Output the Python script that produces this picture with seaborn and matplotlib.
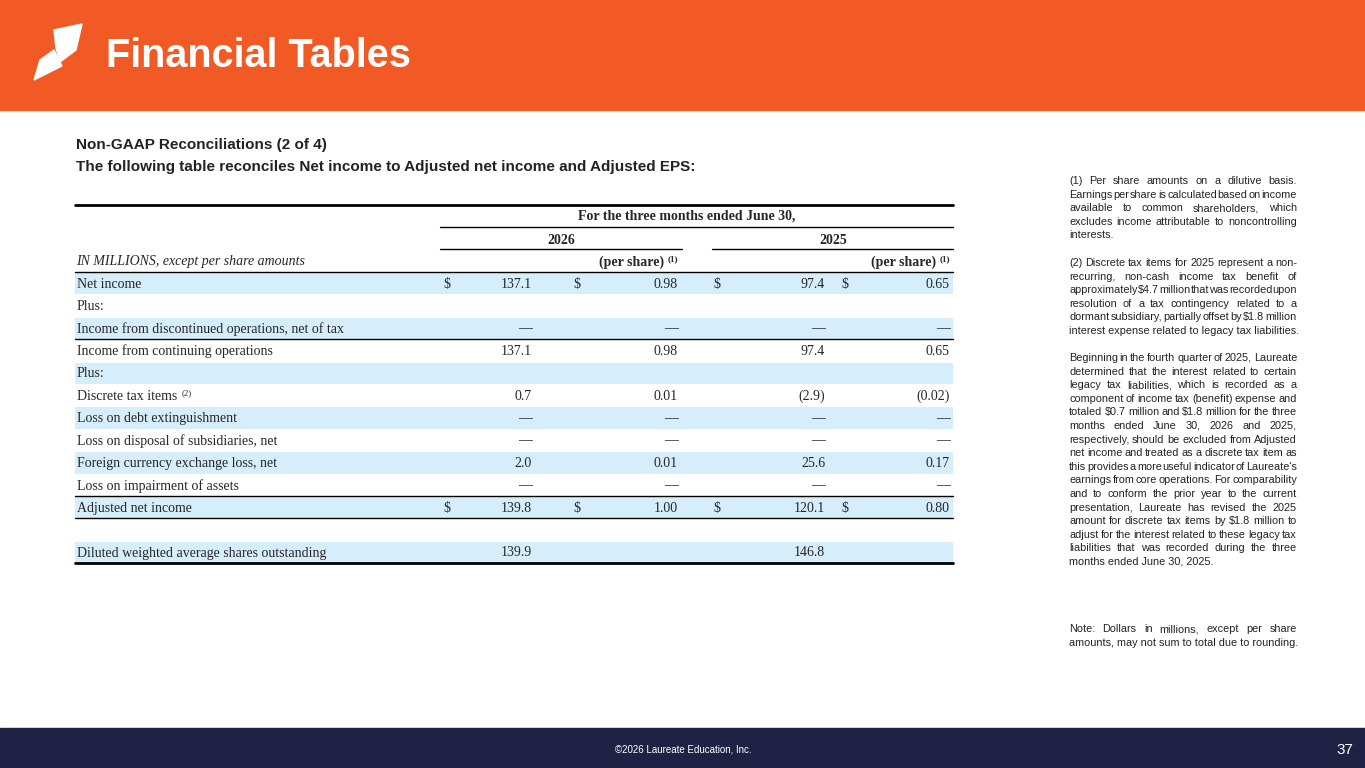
import matplotlib
matplotlib.use("Agg")
import matplotlib.pyplot as plt
import seaborn as sns
from matplotlib.patches import Polygon

sns.set_theme(style="white")
plt.rcParams['font.family'] = ['Liberation Sans', 'DejaVu Sans']

labels = ["Net income", "Plus:", "Income from discontinued operations, net of tax",
          "Income from continuing operations", "Plus:", "Discrete tax items",
          "Loss on debt extinguishment", "Loss on disposal of subsidiaries, net",
          "Foreign currency exchange loss, net", "Loss on impairment of assets",
          "Adjusted net income", "", "Diluted weighted average shares outstanding"]
v2026 = ["137.1", "", "—", "137.1", "", "0.7", "—", "—", "2.0", "—", "139.8", "", "139.9"]
ps2026 = ["0.98", "", "—", "0.98", "", "0.01", "—", "—", "0.01", "—", "1.00", "", ""]
v2025 = ["97.4", "", "—", "97.4", "", "(2.9)", "—", "—", "25.6", "—", "120.1", "", "146.8"]
ps2025 = ["0.65", "", "—", "0.65", "", "(0.02)", "—", "—", "0.17", "—", "0.80", "", ""]
dollar_rows = [0, 10]
shaded = [0, 2, 4, 6, 8, 10, 12]

paragraphs = [
    ["(1) Per share amounts on a dilutive basis.", "Earnings per share is calculated based on income",
     "available to common shareholders, which", "excludes income attributable to noncontrolling",
     "interests."],
    ["(2) Discrete tax items for 2025 represent a non-", "recurring, non-cash income tax benefit of",
     "approximately $4.7 million that was recorded upon", "resolution of a tax contingency related to a",
     "dormant subsidiary, partially offset by $1.8 million", "interest expense related to legacy tax liabilities."],
    ["Beginning in the fourth quarter of 2025, Laureate", "determined that the interest related to certain",
     "legacy tax liabilities, which is recorded as a", "component of income tax (benefit) expense and",
     "totaled $0.7 million and $1.8 million for the three", "months ended June 30, 2026 and 2025,",
     "respectively, should be excluded from Adjusted", "net income and treated as a discrete tax item as",
     "this provides a more useful indicator of Laureate's", "earnings from core operations. For comparability",
     "and to conform the prior year to the current", "presentation, Laureate has revised the 2025",
     "amount for discrete tax items by $1.8 million to", "adjust for the interest related to these legacy tax",
     "liabilities that was recorded during the three", "months ended June 30, 2025."],
    ["Note: Dollars in millions, except per share", "amounts, may not sum to total due to rounding."]]
para_y = [181, 263, 358, 629]

fig = plt.figure(figsize=(13.65, 7.68), dpi=100)
ax = fig.add_axes([0, 0, 1, 1])
ax.set_xlim(0, 1365); ax.set_ylim(768, 0); ax.axis("off")

ax.axhspan(0, 110, color="#F15A24")
ax.axhspan(728, 768, color="#1F2244")
ax.add_patch(Polygon([(54, 30), (82, 24), (76, 50), (60, 62), (56, 48)], closed=True, color="white"))
ax.add_patch(Polygon([(40, 60), (54, 50), (62, 66), (34, 80)], closed=True, color="white"))
ax.text(106, 56, "Financial Tables", color="white", fontsize=28.5, fontweight="bold", va="center")
ax.text(683, 750, "©2026 Laureate Education, Inc.", color="white", fontsize=7, ha="center", va="center")
ax.text(1353, 750, "37", color="white", fontsize=11, ha="right", va="center")

ax.text(76, 145, "Non-GAAP Reconciliations (2 of 4)", fontsize=11, fontweight="bold", color="#222222", va="center")
ax.text(76, 167, "The following table reconciles Net income to Adjusted net income and Adjusted EPS:",
        fontsize=11, fontweight="bold", color="#222222", va="center")

serif = ['Liberation Serif', 'DejaVu Serif']
L, R = 75, 953
ax.plot([L, R], [205, 205], color="black", lw=2)
ax.text(687, 216, "For the three months ended June 30,", family=serif, fontsize=10, fontweight="bold", ha="center", va="center")
ax.plot([440, R], [227, 227], color="black", lw=1)
ax.text(561, 240, "2026", family=serif, fontsize=10, fontweight="bold", ha="center", va="center")
ax.text(833, 240, "2025", family=serif, fontsize=10, fontweight="bold", ha="center", va="center")
ax.plot([440, 682], [249, 249], color="black", lw=1)
ax.plot([712, R], [249, 249], color="black", lw=1)
ax.text(76, 262, "IN MILLIONS, except per share amounts", family=serif, fontsize=10, style="italic", va="center")
for x in (678, 950):
    ax.text(x - 14, 262, "(per share)", family=serif, fontsize=10, fontweight="bold", ha="right", va="center")
    ax.text(x, 259, "(1)", family=serif, fontsize=6.5, fontweight="bold", ha="right", va="center")
ax.plot([L, R], [272, 272], color="black", lw=1)

rh = 22.4
for i, lab in enumerate(labels):
    top = 272 + i * rh
    yc = top + rh / 2 + 1
    if i in shaded:
        ax.axhspan(top + 1, top + rh, xmin=L / 1365, xmax=R / 1365, color="#D6EEFB", lw=0)
    ax.text(77, yc, lab, family=serif, fontsize=10, va="center")
    if i == 5:
        ax.text(182, yc - 3, "(2)", family=serif, fontsize=6.5, va="center")
    for x, v in ((532, v2026[i]), (678, ps2026[i]), (825, v2025[i]), (950, ps2025[i])):
        ax.text(x, yc, v, family=serif, fontsize=10, ha="right", va="center")
    if i in dollar_rows:
        for x in (447, 577, 717, 845):
            ax.text(x, yc, "$", family=serif, fontsize=10, ha="center", va="center")
for i in (2, 9, 10):
    y = 272 + (i + 1) * rh
    ax.plot([L, R], [y, y], color="black", lw=1)
ax.plot([L, R], [272 + 13 * rh, 272 + 13 * rh], color="black", lw=2)

# justified footnotes
renderer = fig.canvas.get_renderer()
FX0, FX1, LS = 1069, 1297, 13.6
fs = 7.8
def wwidth(s):
    t = ax.text(0, 0, s, fontsize=fs)
    w = t.get_window_extent(renderer).width
    t.remove()
    return w
for p, y0 in zip(paragraphs, para_y):
    for k, line in enumerate(p):
        y = y0 + k * LS
        words = line.split(" ")
        last = (k == len(p) - 1)
        if last or len(words) < 2:
            ax.text(FX0, y, line.replace("$", r"\$"), fontsize=fs, color="#222222", va="center")
            continue
        ws = [wwidth(w.replace("$", r"\$")) for w in words]
        gap = (FX1 - FX0 - sum(ws)) / (len(words) - 1)
        x = FX0
        for w, wd in zip(words, ws):
            ax.text(x, y, w.replace("$", r"\$"), fontsize=fs, color="#222222", va="center")
            x += wd + gap

fig.savefig("out.png", dpi=100)
